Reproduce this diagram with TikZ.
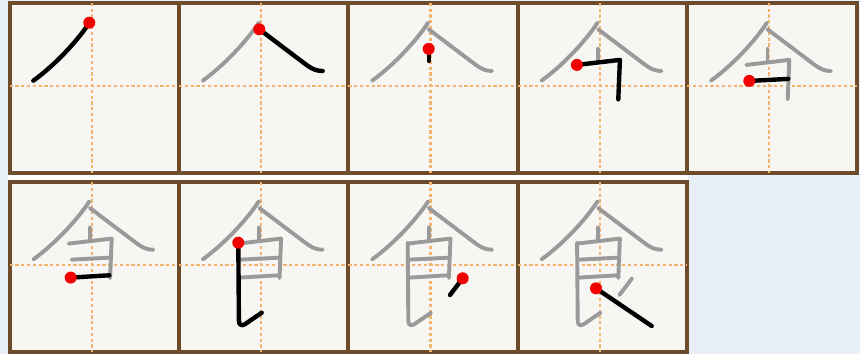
\documentclass[tikz,border=0pt]{standalone}
\definecolor{bgblue}{HTML}{E9EFF6}
\definecolor{boxfill}{HTML}{F7F6F3}
\definecolor{framebrown}{HTML}{6E4B2A}
\definecolor{guideorange}{HTML}{F2B46E}
\definecolor{ghostgray}{HTML}{9A9A9A}
\definecolor{dotred}{HTML}{F20000}
\tikzset{
  gridframe/.style={draw=framebrown, line width=4pt, fill=boxfill},
  guideline/.style={draw=guideorange, line width=2.2pt, dash pattern=on 3.2pt off 2.6pt},
  ghoststroke/.style={draw=ghostgray, line width=3.9pt, line cap=round, line join=round},
  inkstroke/.style={draw=black, line width=4.4pt, line cap=round, line join=round},
  startdot/.style={fill=dotred, draw=none}
}
% strokes of the character, relative to the cross of the guide lines
\newcommand\stkA[1]{\draw[#1] (-2.4,-63.2) .. controls (-12,-48) and (-35,-22) .. (-58.4,-5.2);}
\newcommand\stkB[1]{\draw[#1] (-1.8,-56.6) -- (44,-22) .. controls (52,-16) and (56,-15) .. (61.6,-14.9);}
\newcommand\stkC[1]{\draw[#1] (-1.8,-37) -- (-1.8,-25);}
\newcommand\stkD[1]{\draw[#1] (-23,-21) -- (20,-26) -- (18.4,13.4);}
\newcommand\stkE[1]{\draw[#1] (-20,-5) -- (19,-7);}
\newcommand\stkF[1]{\draw[#1] (-21,13) -- (17.6,10.7);}
\newcommand\stkG[1]{\draw[#1] (-22.8,-21.9) -- (-22.2,56) .. controls (-22.2,61) and (-19,61.5) .. (-16,59.5) -- (0.6,48.1);}
\newcommand\stkH[1]{\draw[#1] (32.2,13.7) -- (19.5,30.4);}
\newcommand\stkI[1]{\draw[#1] (-3.9,23.7) -- (51.8,61.4);}
\newcommand\gridbox[6]{%
  \path[gridframe] (#1,#3) rectangle (#2,#4);
  \draw[guideline] (#5,#3) -- (#5,#4);
  \draw[guideline] (#1,#6) -- (#2,#6);
}
\begin{document}
\begin{tikzpicture}[x=1pt,y=-1pt]
\useasboundingbox (0,0) rectangle (860,354);
\fill[bgblue] (0,0) rectangle (860,354);
\fill[white!97!bgblue] (8,173) rectangle (688,182);
% top row frames
\gridbox{9.5}{178.9}{2.7}{173}{91.7}{85.9}
\gridbox{178.9}{348.3}{2.7}{173}{261.1}{85.9}
\gridbox{348.3}{517.7}{2.7}{173}{430.5}{85.9}
\gridbox{517.7}{687.1}{2.7}{173}{599.9}{85.9}
\gridbox{687.1}{856.5}{2.7}{173}{769.3}{85.9}
% bottom row frames
\gridbox{9.5}{178.9}{182}{352.3}{91.7}{264.6}
\gridbox{178.9}{348.3}{182}{352.3}{261.1}{264.6}
\gridbox{348.3}{517.7}{182}{352.3}{430.5}{264.6}
\gridbox{517.7}{687.1}{182}{352.3}{599.9}{264.6}
% box 1
\begin{scope}[shift={(91.7,85.9)}]
  \coordinate (c1) at (0,0);
  \stkA{inkstroke}
  \fill[startdot] (-2.4,-63.2) circle (6);
\end{scope}
% box 2
\begin{scope}[shift={(261.1,85.9)}]
  \coordinate (c2) at (0,0);
  \stkA{ghoststroke}
  \stkB{inkstroke}
  \fill[startdot] (-1.8,-56.6) circle (6);
\end{scope}
% box 3
\begin{scope}[shift={(430.5,85.9)}]
  \coordinate (c3) at (0,0);
  \stkA{ghoststroke}\stkB{ghoststroke}
  \stkC{inkstroke}
  \fill[startdot] (-1.8,-37) circle (6);
\end{scope}
% box 4
\begin{scope}[shift={(599.9,85.9)}]
  \coordinate (c4) at (0,0);
  \stkA{ghoststroke}\stkB{ghoststroke}\stkC{ghoststroke}
  \stkD{inkstroke}
  \fill[startdot] (-23,-21) circle (6);
\end{scope}
% box 5
\begin{scope}[shift={(769.3,85.9)}]
  \coordinate (c5) at (0,0);
  \stkA{ghoststroke}\stkB{ghoststroke}\stkC{ghoststroke}\stkD{ghoststroke}
  \stkE{inkstroke}
  \fill[startdot] (-20,-5) circle (6);
\end{scope}
% box 6
\begin{scope}[shift={(91.7,264.6)}]
  \coordinate (c6) at (0,0);
  \stkA{ghoststroke}\stkB{ghoststroke}\stkC{ghoststroke}\stkD{ghoststroke}\stkE{ghoststroke}
  \stkF{inkstroke}
  \fill[startdot] (-21,13) circle (6);
\end{scope}
% box 7
\begin{scope}[shift={(261.1,264.6)}]
  \coordinate (c7) at (0,0);
  \stkA{ghoststroke}\stkB{ghoststroke}\stkC{ghoststroke}\stkD{ghoststroke}\stkE{ghoststroke}\stkF{ghoststroke}
  \stkG{inkstroke}
  \fill[startdot] (-22.8,-21.9) circle (6);
\end{scope}
% box 8
\begin{scope}[shift={(430.5,264.6)}]
  \coordinate (c8) at (0,0);
  \stkA{ghoststroke}\stkB{ghoststroke}\stkC{ghoststroke}\stkD{ghoststroke}\stkE{ghoststroke}\stkF{ghoststroke}\stkG{ghoststroke}
  \stkH{inkstroke}
  \fill[startdot] (32.2,13.7) circle (6);
\end{scope}
% box 9
\begin{scope}[shift={(599.9,264.6)}]
  \coordinate (c9) at (0,0);
  \stkA{ghoststroke}\stkB{ghoststroke}\stkC{ghoststroke}\stkD{ghoststroke}\stkE{ghoststroke}\stkF{ghoststroke}\stkG{ghoststroke}\stkH{ghoststroke}
  \stkI{inkstroke}
  \fill[startdot] (-3.9,23.7) circle (6);
\end{scope}
\end{tikzpicture}
\end{document}
